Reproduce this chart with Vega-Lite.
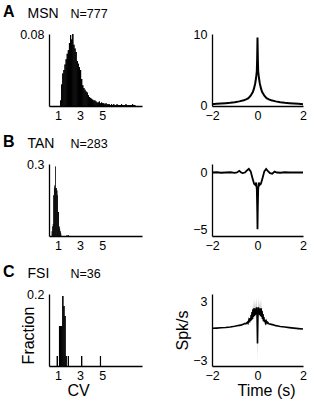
{
  "$schema": "https://vega.github.io/schema/vega-lite/v6.json",
  "background": "white",
  "padding": {"left": 3, "top": 4, "right": 4, "bottom": 4},
  "columns": 2,
  "bounds": "flush",
  "spacing": {"row": 58, "column": 70},
  "config": {
    "font": "Liberation Sans",
    "view": {"stroke": null},
    "axis": {"ticks": false, "grid": false, "domainColor": "#000", "domainWidth": 1.3, "labelColor": "#000", "labelFontSize": 12.5, "titleColor": "#000", "titleFontSize": 16, "titleFontWeight": "normal", "labelPadding": 5, "labelFlush": false},
    "axisX": {"labelPadding": 3},
    "title": {"color": "#000", "anchor": "start", "frame": "group", "fontSize": 16, "fontWeight": "bold", "dx": -46, "dy": 18}
  },
  "concat": [
    {
      "width": 93, "height": 72,
      "title": "A",
      "data": {"values": [
        {"cv":1.2,"cv2":1.3,"f":0.006},{"cv":1.3,"cv2":1.4,"f":0.024},{"cv":1.4,"cv2":1.5,"f":0.036},{"cv":1.5,"cv2":1.6,"f":0.040},
        {"cv":1.6,"cv2":1.7,"f":0.046},{"cv":1.7,"cv2":1.8,"f":0.052},{"cv":1.8,"cv2":1.9,"f":0.058},{"cv":1.9,"cv2":2.0,"f":0.062},
        {"cv":2.0,"cv2":2.1,"f":0.070},{"cv":2.1,"cv2":2.2,"f":0.079},{"cv":2.2,"cv2":2.3,"f":0.074},{"cv":2.3,"cv2":2.4,"f":0.080},
        {"cv":2.4,"cv2":2.5,"f":0.068},{"cv":2.5,"cv2":2.6,"f":0.064},{"cv":2.6,"cv2":2.7,"f":0.060},{"cv":2.7,"cv2":2.8,"f":0.050},
        {"cv":2.8,"cv2":2.9,"f":0.047},{"cv":2.9,"cv2":3.0,"f":0.043},{"cv":3.0,"cv2":3.1,"f":0.040},{"cv":3.1,"cv2":3.2,"f":0.030},
        {"cv":3.2,"cv2":3.3,"f":0.023},{"cv":3.3,"cv2":3.4,"f":0.020},{"cv":3.4,"cv2":3.5,"f":0.018},{"cv":3.5,"cv2":3.6,"f":0.016},
        {"cv":3.6,"cv2":3.7,"f":0.015},{"cv":3.7,"cv2":3.8,"f":0.012},{"cv":3.8,"cv2":3.9,"f":0.010},{"cv":3.9,"cv2":4.0,"f":0.009},
        {"cv":4.0,"cv2":4.1,"f":0.008},{"cv":4.1,"cv2":4.2,"f":0.007},{"cv":4.2,"cv2":4.3,"f":0.006},{"cv":4.3,"cv2":4.4,"f":0.006},
        {"cv":4.4,"cv2":4.5,"f":0.005},{"cv":4.5,"cv2":4.6,"f":0.004},{"cv":4.6,"cv2":4.7,"f":0.004},{"cv":4.7,"cv2":4.8,"f":0.005},
        {"cv":4.8,"cv2":4.9,"f":0.003},{"cv":4.9,"cv2":5.0,"f":0.004},{"cv":5.0,"cv2":5.1,"f":0.003},{"cv":5.1,"cv2":5.2,"f":0.003},
        {"cv":5.2,"cv2":5.3,"f":0.002},{"cv":5.3,"cv2":5.4,"f":0.003},{"cv":5.4,"cv2":5.5,"f":0.002},{"cv":5.5,"cv2":5.6,"f":0.002},
        {"cv":5.6,"cv2":5.7,"f":0.002},{"cv":5.7,"cv2":5.8,"f":0.001},{"cv":5.8,"cv2":5.9,"f":0.002},{"cv":5.9,"cv2":6.0,"f":0.001},
        {"cv":6.0,"cv2":6.1,"f":0.002},{"cv":6.1,"cv2":6.2,"f":0.001},{"cv":6.2,"cv2":6.3,"f":0.001},{"cv":6.3,"cv2":6.4,"f":0.002},
        {"cv":6.4,"cv2":6.5,"f":0.001},{"cv":6.5,"cv2":6.6,"f":0.001},{"cv":6.6,"cv2":6.7,"f":0.001},{"cv":6.7,"cv2":6.8,"f":0.002},
        {"cv":6.8,"cv2":6.9,"f":0.001},{"cv":6.9,"cv2":7.0,"f":0.001},{"cv":7.0,"cv2":7.1,"f":0.001},{"cv":7.1,"cv2":7.2,"f":0.002},
        {"cv":7.2,"cv2":7.3,"f":0.001},{"cv":7.3,"cv2":7.4,"f":0.001},{"cv":7.4,"cv2":7.5,"f":0.001},{"cv":7.5,"cv2":7.6,"f":0.001},
        {"cv":7.6,"cv2":7.7,"f":0.001},{"cv":7.7,"cv2":7.8,"f":0.002},{"cv":7.8,"cv2":7.9,"f":0.001},{"cv":7.9,"cv2":8.0,"f":0.001}
      ]},
      "layer": [
        {
          "mark": {"type": "bar", "color": "#000"},
          "encoding": {
            "x": {"field": "cv", "type": "quantitative", "scale": {"domain": [0.2, 8.6], "nice": false, "zero": false}, "axis": {"orient": "bottom", "values": [1, 3, 5], "title": null}},
            "x2": {"field": "cv2"},
            "y": {"field": "f", "type": "quantitative", "scale": {"domain": [0, 0.08], "nice": false}, "axis": {"orient": "left", "values": [0.08], "format": ".2f", "title": null}},
            "y2": {"datum": 0}
          }
        },
        {
          "mark": {"type": "bar", "color": "#000"},
          "encoding": {
            "x": {"field": "cv", "type": "quantitative", "axis": {"orient": "top", "labels": false, "domain": false, "title": "MSN", "titleFontSize": 14, "titleAlign": "left", "titleBaseline": "alphabetic", "titleX": -22, "titleY": -17}},
            "x2": {"field": "cv2"},
            "y": {"field": "f", "type": "quantitative", "axis": {"orient": "right", "labels": false, "domain": false, "title": "N=777", "titleFontSize": 12.5, "titleAngle": 0, "titleAlign": "left", "titleBaseline": "alphabetic", "titleX": -72, "titleY": -17}},
            "y2": {"datum": 0}
          }
        }
      ]
    },
    {
      "width": 91, "height": 72,
      "data": {"values": [
        {"t":-2.0,"v":0.15},{"t":-1.8,"v":0.2},{"t":-1.6,"v":0.25},{"t":-1.4,"v":0.3},{"t":-1.2,"v":0.36},{"t":-1.0,"v":0.44},
        {"t":-0.8,"v":0.55},{"t":-0.6,"v":0.7},{"t":-0.5,"v":0.82},{"t":-0.4,"v":1.0},{"t":-0.3,"v":1.35},{"t":-0.2,"v":1.9},
        {"t":-0.15,"v":2.4},{"t":-0.1,"v":3.1},{"t":-0.06,"v":3.9},{"t":-0.03,"v":4.8},{"t":-0.015,"v":6.5},{"t":0,"v":9.5},
        {"t":0.015,"v":6.5},{"t":0.03,"v":4.8},{"t":0.06,"v":3.9},{"t":0.1,"v":3.1},{"t":0.15,"v":2.4},{"t":0.2,"v":1.9},
        {"t":0.3,"v":1.35},{"t":0.4,"v":1.0},{"t":0.5,"v":0.82},{"t":0.6,"v":0.7},{"t":0.8,"v":0.55},{"t":1.0,"v":0.44},
        {"t":1.2,"v":0.36},{"t":1.4,"v":0.3},{"t":1.6,"v":0.25},{"t":1.8,"v":0.2},{"t":2.0,"v":0.15}
      ]},
      "mark": {"type": "line", "color": "#000", "strokeWidth": 2},
      "encoding": {
        "x": {"field": "t", "type": "quantitative", "scale": {"domain": [-2, 2], "nice": false, "zero": false}, "axis": {"values": [-2, 0, 2], "title": null}},
        "y": {"field": "v", "type": "quantitative", "scale": {"domain": [-0.1, 10], "nice": false}, "axis": {"values": [0, 10], "format": "d", "title": null}}
      }
    },
    {
      "width": 93, "height": 72,
      "title": "B",
      "data": {"values": [
        {"cv":0.45,"cv2":0.5,"f":0.02},{"cv":0.5,"cv2":0.55,"f":0.04},{"cv":0.55,"cv2":0.6,"f":0.05},{"cv":0.6,"cv2":0.65,"f":0.17},
        {"cv":0.65,"cv2":0.7,"f":0.20},{"cv":0.7,"cv2":0.75,"f":0.21},{"cv":0.75,"cv2":0.8,"f":0.29},{"cv":0.8,"cv2":0.85,"f":0.20},
        {"cv":0.85,"cv2":0.9,"f":0.20},{"cv":0.9,"cv2":0.95,"f":0.19},{"cv":0.95,"cv2":1.0,"f":0.17},{"cv":1.0,"cv2":1.05,"f":0.10},
        {"cv":1.05,"cv2":1.1,"f":0.10},{"cv":1.1,"cv2":1.15,"f":0.04},{"cv":1.15,"cv2":1.2,"f":0.03},{"cv":1.2,"cv2":1.25,"f":0.02},
        {"cv":1.25,"cv2":1.3,"f":0.01},{"cv":1.8,"cv2":1.85,"f":0.004},{"cv":1.95,"cv2":2.0,"f":0.004}
      ]},
      "layer": [
        {
          "mark": {"type": "bar", "color": "#000"},
          "encoding": {
            "x": {"field": "cv", "type": "quantitative", "scale": {"domain": [0.2, 8.6], "nice": false, "zero": false}, "axis": {"orient": "bottom", "values": [1, 3, 5], "title": null}},
            "x2": {"field": "cv2"},
            "y": {"field": "f", "type": "quantitative", "scale": {"domain": [0, 0.3], "nice": false}, "axis": {"orient": "left", "values": [0.3], "format": ".1f", "title": null}},
            "y2": {"datum": 0}
          }
        },
        {
          "mark": {"type": "bar", "color": "#000"},
          "encoding": {
            "x": {"field": "cv", "type": "quantitative", "axis": {"orient": "top", "labels": false, "domain": false, "title": "TAN", "titleFontSize": 14, "titleAlign": "left", "titleBaseline": "alphabetic", "titleX": -22, "titleY": -17}},
            "x2": {"field": "cv2"},
            "y": {"field": "f", "type": "quantitative", "axis": {"orient": "right", "labels": false, "domain": false, "title": "N=283", "titleFontSize": 12.5, "titleAngle": 0, "titleAlign": "left", "titleBaseline": "alphabetic", "titleX": -72, "titleY": -17}},
            "y2": {"datum": 0}
          }
        }
      ]
    },
    {
      "width": 91, "height": 72,
      "data": {"values": [
        {"t":-2.0,"v":0.0},{"t":-1.8,"v":0.02},{"t":-1.6,"v":-0.02},{"t":-1.4,"v":0.0},{"t":-1.2,"v":0.02},{"t":-1.0,"v":-0.03},
        {"t":-0.9,"v":0.0},{"t":-0.8,"v":0.15},{"t":-0.72,"v":0.0},{"t":-0.65,"v":-0.05},{"t":-0.55,"v":0.0},{"t":-0.45,"v":0.2},
        {"t":-0.38,"v":0.32},{"t":-0.3,"v":0.1},{"t":-0.22,"v":-0.5},{"t":-0.15,"v":-1.0},{"t":-0.1,"v":-1.1},{"t":-0.06,"v":-0.9},
        {"t":-0.03,"v":-1.5},{"t":-0.01,"v":-3.5},{"t":0,"v":-5.0},{"t":0.01,"v":-3.5},{"t":0.03,"v":-1.5},{"t":0.06,"v":-0.9},
        {"t":0.1,"v":-1.1},{"t":0.15,"v":-1.0},{"t":0.22,"v":-0.5},{"t":0.3,"v":0.1},{"t":0.38,"v":0.32},{"t":0.45,"v":0.15},
        {"t":0.55,"v":-0.05},{"t":0.65,"v":-0.1},{"t":0.75,"v":0.08},{"t":0.85,"v":0.0},{"t":1.0,"v":-0.02},{"t":1.2,"v":0.02},
        {"t":1.4,"v":0.0},{"t":1.6,"v":0.0},{"t":1.8,"v":0.02},{"t":2.0,"v":0.0}
      ]},
      "mark": {"type": "line", "color": "#000", "strokeWidth": 1.8},
      "encoding": {
        "x": {"field": "t", "type": "quantitative", "scale": {"domain": [-2, 2], "nice": false, "zero": false}, "axis": {"values": [-2, 0, 2], "title": null}},
        "y": {"field": "v", "type": "quantitative", "scale": {"domain": [-5.6, 0.75], "nice": false, "zero": false}, "axis": {"values": [0, -5], "format": "d", "title": null}}
      }
    },
    {
      "width": 93, "height": 72,
      "title": "C",
      "data": {"values": [
        {"cv":0.9,"cv2":1.0,"f":0.0278},{"cv":1.1,"cv2":1.2,"f":0.1111},{"cv":1.2,"cv2":1.3,"f":0.1111},{"cv":1.3,"cv2":1.4,"f":0.1111},
        {"cv":1.4,"cv2":1.5,"f":0.1944},{"cv":1.5,"cv2":1.6,"f":0.1667},{"cv":1.6,"cv2":1.7,"f":0.1389},{"cv":1.7,"cv2":1.8,"f":0.0278},
        {"cv":1.9,"cv2":2.0,"f":0.0278},{"cv":3.1,"cv2":3.2,"f":0.0278},{"cv":4.8,"cv2":4.9,"f":0.0278}
      ]},
      "layer": [
        {
          "mark": {"type": "bar", "color": "#000"},
          "encoding": {
            "x": {"field": "cv", "type": "quantitative", "scale": {"domain": [0.2, 8.6], "nice": false, "zero": false}, "axis": {"orient": "bottom", "values": [1, 3, 5], "title": "CV", "titleX": 29, "titlePadding": 1}},
            "x2": {"field": "cv2"},
            "y": {"field": "f", "type": "quantitative", "scale": {"domain": [0, 0.2], "nice": false}, "axis": {"orient": "left", "values": [0.2], "format": ".1f", "title": "Fraction", "titlePadding": -10, "titleY": 41}},
            "y2": {"datum": 0}
          }
        },
        {
          "mark": {"type": "bar", "color": "#000"},
          "encoding": {
            "x": {"field": "cv", "type": "quantitative", "axis": {"orient": "top", "labels": false, "domain": false, "title": "FSI", "titleFontSize": 14, "titleAlign": "left", "titleBaseline": "alphabetic", "titleX": -22, "titleY": -17}},
            "x2": {"field": "cv2"},
            "y": {"field": "f", "type": "quantitative", "axis": {"orient": "right", "labels": false, "domain": false, "title": "N=36", "titleFontSize": 12.5, "titleAngle": 0, "titleAlign": "left", "titleBaseline": "alphabetic", "titleX": -72, "titleY": -17}},
            "y2": {"datum": 0}
          }
        }
      ]
    },
    {
      "width": 91, "height": 72,
      "data": {"values": [
        {"t":-2.0,"v":0.25},{"t":-1.8,"v":0.27},{"t":-1.6,"v":0.3},{"t":-1.4,"v":0.33},{"t":-1.2,"v":0.38},{"t":-1.0,"v":0.45},
        {"t":-0.9,"v":0.5},{"t":-0.8,"v":0.55},{"t":-0.7,"v":0.6},{"t":-0.6,"v":0.68},{"t":-0.55,"v":0.75},{"t":-0.5,"v":0.72},
        {"t":-0.45,"v":0.85},{"t":-0.42,"v":0.75},{"t":-0.38,"v":1.1},{"t":-0.35,"v":0.85},{"t":-0.32,"v":1.3},
        {"t":-0.30,"v":1.0,"lo":0.8,"hi":1.3},{"t":-0.28,"v":1.6,"lo":1.3,"hi":2.0},{"t":-0.26,"v":1.1,"lo":0.9,"hi":1.4},
        {"t":-0.24,"v":1.9,"lo":1.5,"hi":2.4},{"t":-0.22,"v":1.2,"lo":1.0,"hi":1.5},{"t":-0.20,"v":2.2,"lo":1.8,"hi":2.8},
        {"t":-0.18,"v":1.4,"lo":1.1,"hi":1.7},{"t":-0.16,"v":2.3,"lo":1.8,"hi":3.2},{"t":-0.14,"v":1.5,"lo":1.2,"hi":1.8},
        {"t":-0.12,"v":2.3,"lo":1.8,"hi":3.3},{"t":-0.10,"v":1.6,"lo":1.3,"hi":2.0},{"t":-0.08,"v":2.2,"lo":1.7,"hi":3.0},
        {"t":-0.06,"v":1.7,"lo":1.3,"hi":2.1},{"t":-0.04,"v":2.4,"lo":1.9,"hi":3.4},{"t":-0.02,"v":1.6,"lo":1.0,"hi":2.4},
        {"t":-0.01,"v":0.2,"lo":-1.0,"hi":1.2},{"t":0,"v":-1.3,"lo":-3.2,"hi":0.2},{"t":0.01,"v":0.2,"lo":-1.0,"hi":1.2},
        {"t":0.02,"v":1.6,"lo":1.0,"hi":2.4},{"t":0.04,"v":2.4,"lo":1.9,"hi":3.4},{"t":0.06,"v":1.7,"lo":1.3,"hi":2.1},
        {"t":0.08,"v":2.2,"lo":1.7,"hi":3.0},{"t":0.10,"v":1.6,"lo":1.3,"hi":2.0},{"t":0.12,"v":2.3,"lo":1.8,"hi":3.3},
        {"t":0.14,"v":1.5,"lo":1.2,"hi":1.8},{"t":0.16,"v":2.3,"lo":1.8,"hi":3.2},{"t":0.18,"v":1.4,"lo":1.1,"hi":1.7},
        {"t":0.20,"v":2.0,"lo":1.6,"hi":2.6},{"t":0.22,"v":1.2,"lo":1.0,"hi":1.5},{"t":0.24,"v":1.7,"lo":1.4,"hi":2.1},
        {"t":0.26,"v":1.0,"lo":0.8,"hi":1.3},{"t":0.28,"v":1.4,"lo":1.1,"hi":1.7},{"t":0.30,"v":0.9,"lo":0.7,"hi":1.1},
        {"t":0.32,"v":1.1},{"t":0.35,"v":0.8},{"t":0.38,"v":1.0},{"t":0.42,"v":0.75},{"t":0.45,"v":0.85},{"t":0.5,"v":0.7},
        {"t":0.6,"v":0.65},{"t":0.7,"v":0.6},{"t":0.8,"v":0.52},{"t":0.9,"v":0.48},{"t":1.0,"v":0.44},{"t":1.2,"v":0.38},
        {"t":1.4,"v":0.32},{"t":1.6,"v":0.27},{"t":1.8,"v":0.22},{"t":2.0,"v":0.17}
      ]},
      "encoding": {
        "x": {"field": "t", "type": "quantitative", "scale": {"domain": [-2, 2], "nice": false, "zero": false}, "axis": {"values": [-2, 0, 2], "title": "Time (s)", "titleX": 54, "titlePadding": 1}}
      },
      "layer": [
        {
          "mark": {"type": "area", "color": "#bdbdbd"},
          "encoding": {
            "y": {"field": "lo", "type": "quantitative", "scale": {"domain": [-3.6, 3.75], "nice": false, "zero": false}, "axis": {"values": [3, 0, -3], "format": "d", "title": "Spk/s", "titlePadding": 2}},
            "y2": {"field": "hi"}
          }
        },
        {
          "mark": {"type": "line", "color": "#000", "strokeWidth": 1.6},
          "encoding": {
            "y": {"field": "v", "type": "quantitative"}
          }
        }
      ]
    }
  ]
}
